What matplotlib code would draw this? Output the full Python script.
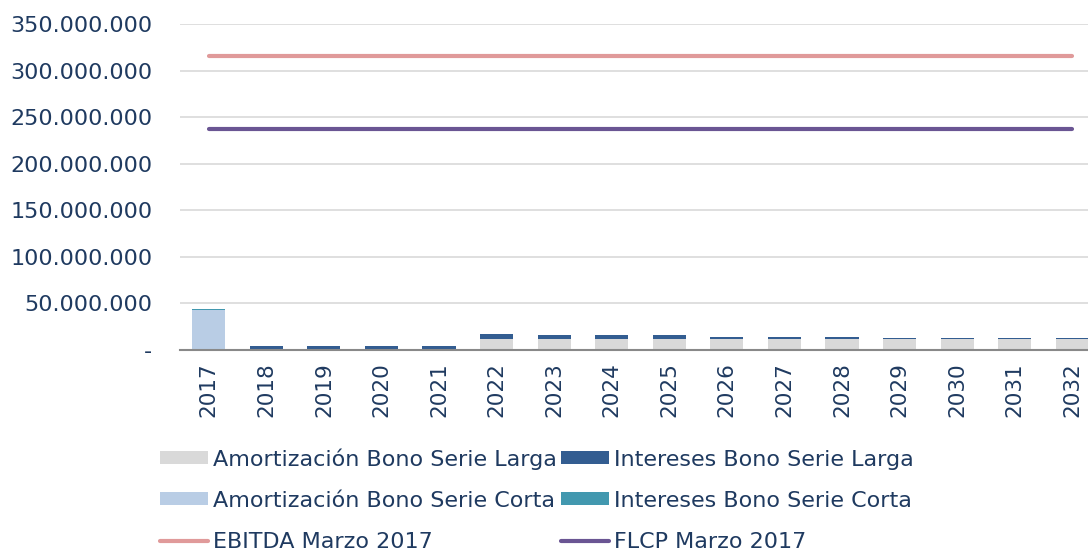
import matplotlib.pyplot as plt
import numpy as np
from matplotlib.ticker import FuncFormatter

# Data (values in pesos)
years = ['2017', '2018', '2019', '2020', '2021', '2022', '2023', '2024',
         '2025', '2026', '2027', '2028', '2029', '2030', '2031', '2032']
amort_larga = [0, 0, 0, 0, 0, 11.5, 11.5, 11.5, 11.5, 11.5, 11.5, 11.5,
               11.5, 11.5, 11.5, 11.5]
int_larga = [1.5, 4.2, 4.2, 4.2, 4.2, 5.4, 4.3, 4.3, 4.3, 2.9, 2.9, 2.9,
             1.4, 1.4, 1.4, 1.4]
amort_corta = [41.2, 0, 0, 0, 0, 0, 0, 0, 0, 0, 0, 0, 0, 0, 0, 0]
int_corta = [1.0, 0, 0, 0, 0, 0, 0, 0, 0, 0, 0, 0, 0, 0, 0, 0]
ebitda = [315.6] * 16
flcp = [237.0] * 16

amort_larga = np.array(amort_larga) * 1e6
int_larga = np.array(int_larga) * 1e6
amort_corta = np.array(amort_corta) * 1e6
int_corta = np.array(int_corta) * 1e6
ebitda = np.array(ebitda) * 1e6
flcp = np.array(flcp) * 1e6

text_color = '#1F3A60'

fig = plt.figure(figsize=(10.88, 5.52), dpi=100)
ax = fig.add_axes([180 / 1088, 202 / 552, 921 / 1088, 326 / 552])

x = np.arange(len(years))
w = 0.575
b1 = ax.bar(x, amort_larga, w, color='#D9D9D9', label='Amortización Bono Serie Larga', zorder=3)
b2 = ax.bar(x, int_larga, w, bottom=amort_larga, color='#335D91', label='Intereses Bono Serie Larga', zorder=3)
bot = amort_larga + int_larga
b3 = ax.bar(x, amort_corta, w, bottom=bot, color='#B9CDE5', label='Amortización Bono Serie Corta', zorder=3)
bot = bot + amort_corta
b4 = ax.bar(x, int_corta, w, bottom=bot, color='#4298AF', label='Intereses Bono Serie Corta', zorder=3)
l1, = ax.plot(x, ebitda, color='#E09A9A', linewidth=3, solid_capstyle='round', label='EBITDA Marzo 2017', zorder=4)
l2, = ax.plot(x, flcp, color='#6A5593', linewidth=3, solid_capstyle='round', label='FLCP Marzo 2017', zorder=4)

ax.set_xlim(-0.5, 15.5)
ax.set_ylim(0, 350e6)
ax.set_yticks(np.arange(0, 350e6 + 1, 50e6))


def fmt(v, pos):
    if v == 0:
        return '-'
    return f'{int(v):,}'.replace(',', '.')


ax.yaxis.set_major_formatter(FuncFormatter(fmt))
ax.set_xticks(x)
ax.set_xticklabels(years, rotation=90)
ax.tick_params(axis='y', length=0, pad=20, labelsize=16, labelcolor=text_color)
ax.tick_params(axis='x', length=0, pad=9, labelsize=15.5, labelcolor=text_color)
ax.grid(axis='y', color='#D9D9D9', linewidth=1.2, zorder=0)
for s in ['top', 'right', 'left']:
    ax.spines[s].set_visible(False)
ax.spines['bottom'].set_color('#898989')
ax.spines['bottom'].set_linewidth(1.5)
ax.spines['bottom'].set_zorder(5)

handles = [b1, b3, l1, b2, b4, l2]
labels = [h.get_label() for h in handles]
leg = fig.legend(handles, labels, ncol=2, loc='upper left',
                 bbox_to_anchor=(140 / 1088, 1 - 428 / 552), frameon=False,
                 fontsize=16, handlelength=2.15, handleheight=0.5,
                 handletextpad=0.22, columnspacing=0.2, labelspacing=0.95)
for t in leg.get_texts():
    t.set_color(text_color)

plt.savefig('out.png', dpi=100)
